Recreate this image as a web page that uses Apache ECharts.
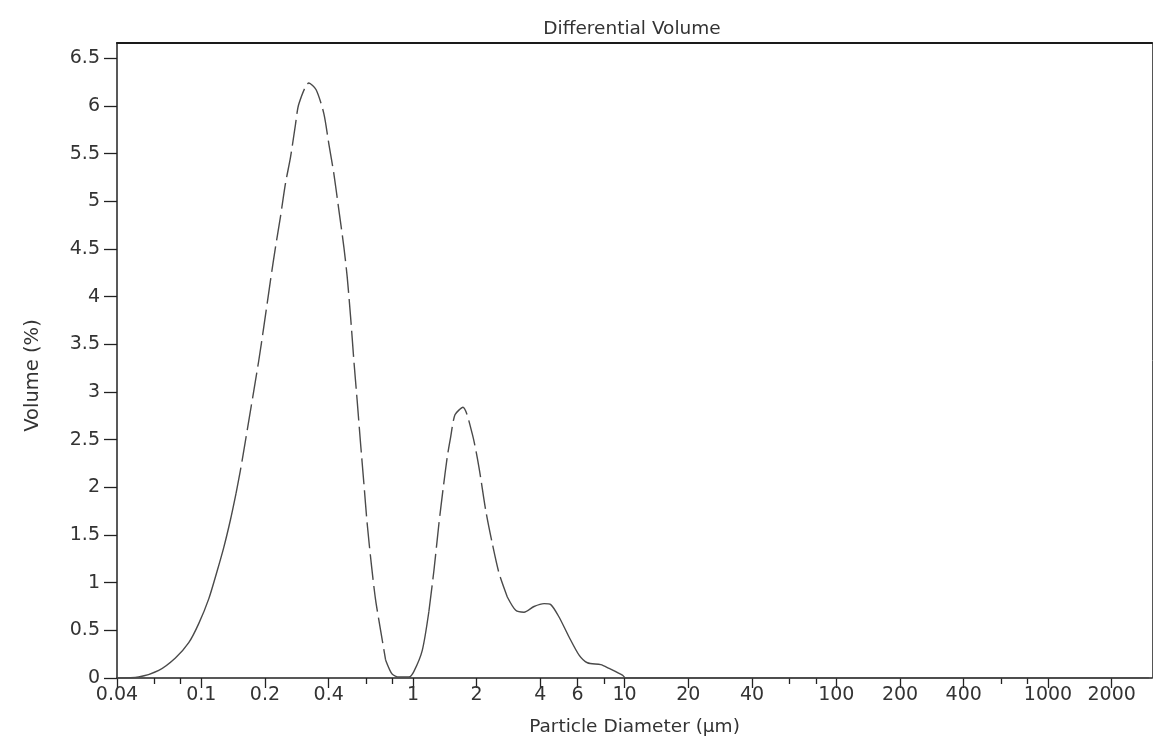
<!DOCTYPE html>
<html>
<head>
<meta charset="utf-8">
<title>Differential Volume</title>
<script src="https://cdn.jsdelivr.net/npm/echarts@6/dist/echarts.min.js"></script>
<style>
  html, body { margin: 0; padding: 0; background: #fff; }
  #chart { width: 1154px; height: 737px; }
</style>
</head>
<body>
<div id="chart"></div>
<script>
// particle diameter (um)
var diameter = [
  0.04, 0.0506, 0.063, 0.0755, 0.0873, 0.0973, 0.1085, 0.1188, 0.1278, 0.1374,
  0.1461, 0.1532, 0.1618, 0.187, 0.1974, 0.2124, 0.2243, 0.2368, 0.2501, 0.264,
  0.2789, 0.2891, 0.3224, 0.3489, 0.3795, 0.4008, 0.4231, 0.4467, 0.4718, 0.4891,
  0.5075, 0.526, 0.5452, 0.5658, 0.5866, 0.6079, 0.6378, 0.6662, 0.7036, 0.7428,
  0.7982, 0.8586, 0.9574, 1.011, 1.107, 1.19, 1.257, 1.327, 1.386, 1.453,
  1.508, 1.58, 1.723, 1.907, 2.051, 2.207, 2.371, 2.551, 2.792, 3.059,
  3.348, 3.734, 4.164, 4.479, 4.9, 5.465, 6.095, 6.672, 7.716, 8.446,
  9.763, 10.13, 20, 100, 1000, 3000
];
// volume (%)
var volume = [
  0, 0.01, 0.08, 0.21, 0.37, 0.57, 0.83, 1.12, 1.37, 1.66,
  1.94, 2.18, 2.49, 3.33, 3.68, 4.17, 4.52, 4.84, 5.19, 5.46,
  5.81, 6.02, 6.24, 6.17, 5.92, 5.6, 5.29, 4.91, 4.52, 4.21,
  3.79, 3.33, 2.91, 2.46, 2.04, 1.62, 1.17, 0.82, 0.5, 0.19,
  0.04, 0.01, 0.01, 0.07, 0.29, 0.7, 1.13, 1.62, 1.97, 2.32,
  2.53, 2.76, 2.84, 2.56, 2.21, 1.76, 1.41, 1.1, 0.85, 0.71,
  0.69, 0.75, 0.78, 0.77, 0.64, 0.43, 0.24, 0.16, 0.14, 0.1,
  0.03, 0, 0, 0, 0, 0
];

var xMajorTicks = [0.04, 0.1, 0.2, 0.4, 1, 2, 4, 6, 10, 20, 40, 100, 200, 400, 1000, 2000];
var xMinorTicks = [0.06, 0.08, 0.6, 0.8, 8, 60, 80, 600, 800];
var yTicks = [0, 0.5, 1, 1.5, 2, 2.5, 3, 3.5, 4, 4.5, 5, 5.5, 6, 6.5];

// the printout breaks the steep parts of the trace into dashes
var dashedRanges = [[0.1461, 0.7428], [1.19, 2.792]];

function inRange(d, strict) {
  for (var i = 0; i < dashedRanges.length; i++) {
    var lo = dashedRanges[i][0], hi = dashedRanges[i][1];
    if (strict ? (d > lo && d < hi) : (d >= lo && d <= hi)) return true;
  }
  return false;
}

var solidData = diameter.map(function (d, i) {
  return [d, inRange(d, true) ? '-' : volume[i]];
});
var dashedData = diameter.map(function (d, i) {
  return [d, inRange(d, false) ? volume[i] : '-'];
});

var font = 'DejaVu Sans, Arial, sans-serif';
var ink = '#333';
var rect = { left: 117, right: 2, top: 43, bottom: 59, outerBoundsMode: 'none', containLabel: false };

var chart = echarts.init(document.getElementById('chart'));
chart.setOption({
  backgroundColor: '#fff',
  animation: false,
  title: {
    text: 'Differential Volume',
    left: 627,
    textAlign: 'center',
    top: 15,
    textStyle: { fontFamily: font, fontSize: 18.5, fontWeight: 'normal', color: ink }
  },
  // second grid only carries the minor ticks and the right-hand frame line
  grid: [rect, rect],
  xAxis: [
    {
      type: 'log',
      logBase: 10,
      gridIndex: 0,
      min: 0.04,
      max: 3100,
      name: 'Particle Diameter (µm)',
      nameLocation: 'middle',
      nameGap: 40,
      nameTextStyle: { fontFamily: font, fontSize: 18.5, color: ink },
      axisLine: { onZero: false, lineStyle: { color: '#222', width: 1.5 } },
      axisTick: { customValues: xMajorTicks, length: 10, lineStyle: { color: '#222', width: 1.3 } },
      axisLabel: {
        customValues: xMajorTicks,
        margin: 8,
        fontFamily: font, fontSize: 19, color: ink,
        formatter: function (v) { return String(+Number(v).toPrecision(3)); }
      },
      splitLine: { show: false },
      minorTick: { show: false }
    },
    {
      type: 'log',
      logBase: 10,
      gridIndex: 0,
      min: 0.04,
      max: 3100,
      position: 'top',
      axisLine: { onZero: false, lineStyle: { color: '#1a1a1a', width: 2.2 } },
      axisTick: { show: false },
      axisLabel: { show: false },
      splitLine: { show: false }
    },
    {
      type: 'log',
      logBase: 10,
      gridIndex: 1,
      min: 0.04,
      max: 3100,
      position: 'bottom',
      axisLine: { show: false, onZero: false },
      axisTick: { customValues: xMinorTicks, length: 6, lineStyle: { color: '#222', width: 1.3 } },
      axisLabel: { show: false },
      splitLine: { show: false }
    }
  ],
  yAxis: [
    {
      type: 'value',
      gridIndex: 0,
      min: 0,
      max: 6.66,
      name: 'Volume (%)',
      nameLocation: 'middle',
      nameGap: 74,
      nameTextStyle: { fontFamily: font, fontSize: 19.5, color: ink, padding: [0, 30, 0, 0] },
      axisLine: { show: true, lineStyle: { color: '#222', width: 1.5 } },
      axisTick: { customValues: yTicks, length: 13, lineStyle: { color: '#222', width: 1.3 } },
      axisLabel: { customValues: yTicks, margin: 17, fontFamily: font, fontSize: 19, color: ink },
      splitLine: { show: false }
    },
    {
      type: 'value',
      gridIndex: 1,
      min: 0,
      max: 6.66,
      position: 'right',
      axisLine: { show: true, onZero: false, lineStyle: { color: '#555', width: 1 } },
      axisTick: { show: false },
      axisLabel: { show: false },
      splitLine: { show: false }
    }
  ],
  series: [
    {
      name: 'Volume',
      type: 'line',
      xAxisIndex: 0,
      yAxisIndex: 0,
      data: solidData,
      showSymbol: false,
      smooth: 0.25,
      lineStyle: { color: '#4a4a4a', width: 1.4 }
    },
    {
      name: 'Volume (dashed print)',
      type: 'line',
      xAxisIndex: 0,
      yAxisIndex: 0,
      data: dashedData,
      showSymbol: false,
      smooth: 0.25,
      lineStyle: { color: '#4a4a4a', width: 1.4, type: [26, 6] }
    }
  ]
});
</script>
</body>
</html>
